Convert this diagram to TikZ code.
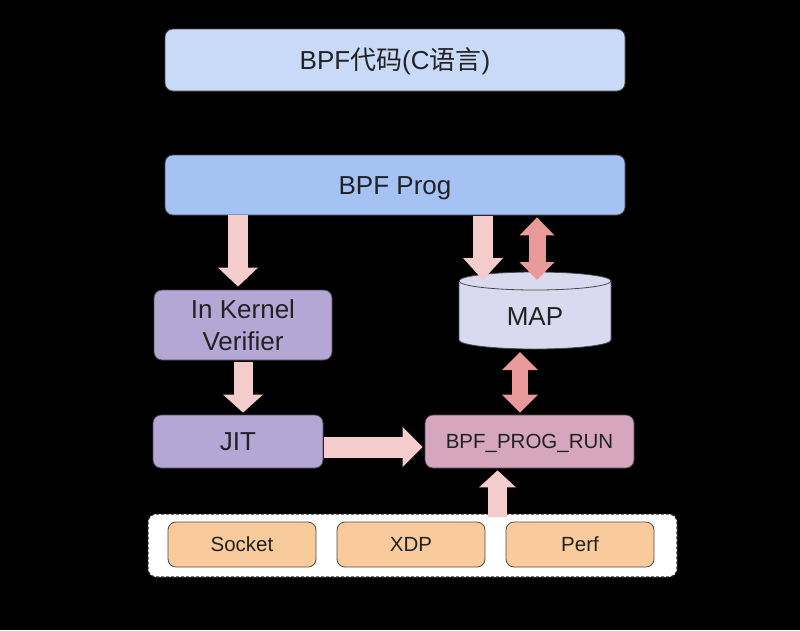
\documentclass[tikz,border=0pt]{standalone}
\usepackage{fontspec}
\setmainfont{Liberation Sans}
\newfontfamily\cjk{Noto Sans CJK SC}
\usetikzlibrary{arrows.meta,calc}
\definecolor{topc}{HTML}{C9DAF8}
\definecolor{progc}{HTML}{A4C2F4}
\definecolor{purc}{HTML}{B4A7D6}
\definecolor{mapc}{HTML}{D9D9F0}
\definecolor{runc}{HTML}{D5A6BD}
\definecolor{orc}{HTML}{F9CB9C}
\definecolor{arl}{HTML}{F4CCCC}
\definecolor{ard}{HTML}{EA9999}
\definecolor{edge}{HTML}{4A4A4A}
\definecolor{txt}{HTML}{222222}
\tikzset{
  box/.style={draw=edge, line width=0.8pt, rounded corners=8pt, text=txt,
    inner sep=0pt, align=center},
  big/.style={font=\fontsize{26}{32}\selectfont, text height=18.6pt, text depth=0pt},
  small/.style={font=\fontsize{20.5}{24}\selectfont, text height=14.7pt, text depth=0pt},
  hook/.style={box, small, fill=orc, minimum width=148, minimum height=45},
  onearrow/.style n args={4}{draw=#1, line width=#2,
    arrows={-{Triangle[width=#3,length=#4,line width=0pt]}}},
  twoarrow/.style n args={4}{draw=#1, line width=#2,
    arrows={{Triangle[width=#3,length=#4,line width=0pt]}-{Triangle[width=#3,length=#4,line width=0pt]}}},
}
\begin{document}
\begin{tikzpicture}[x=1pt,y=1pt]
\fill[black] (0,0) rectangle (800,-630);
\useasboundingbox (0,0) rectangle (800,-630);

\node[box, big, fill=topc, minimum width=460, minimum height=62] (top) at (395,-60) {BPF{\cjk 代码}(C{\cjk 语言})};
\node[box, big, fill=progc, minimum width=460, minimum height=60] (prog) at (395,-185) {BPF Prog};
\node[box, font=\fontsize{26}{32}\selectfont, fill=purc, minimum width=178, minimum height=70] (ver) at (243,-325) {In Kernel\\Verifier};
\node[box, big, fill=purc, minimum width=170, minimum height=53] (jit) at (238,-441.5) {JIT};
\node[box, small, fill=runc, minimum width=209, minimum height=53] (run) at (529.5,-441.5) {BPF\_PROG\_RUN};

% MAP cylinder
\filldraw[draw=edge, line width=0.8pt, fill=mapc]
  (459,-281) -- (459,-340) arc[start angle=180,end angle=360,x radius=76,y radius=9]
  -- (611,-281) arc[start angle=0,end angle=180,x radius=76,y radius=9] -- cycle;
\draw[draw=edge, line width=0.8pt] (459,-281) arc[start angle=180,end angle=360,x radius=76,y radius=9];
\node[text=txt, big, inner sep=0pt] (map) at (535,-316.5) {MAP};

% hook container
\node[draw=black!85, dash pattern=on 3pt off 2pt, line width=1.2pt, fill=white, rounded corners=8pt,
      minimum width=529, minimum height=63, inner sep=0pt] (cont) at (412.5,-545.5) {};
\node[hook] (sock) at (242,-544.5) {Socket};
\node[hook] (xdp) at (411,-544.5) {XDP};
\node[hook] (perf) at (580,-544.5) {Perf};

% arrows
\draw[onearrow={arl}{20pt}{40pt}{19pt}] ([xshift=-5pt]ver.north |- prog.south) -- ([xshift=-5pt,yshift=3pt]ver.north);
\draw[onearrow={arl}{19pt}{40pt}{18pt}] ([yshift=-2pt]ver.south) -- ([yshift=2pt]ver.south |- jit.north);
\draw[onearrow={arl}{20pt}{40pt}{22pt}] ([xshift=88pt,yshift=-1pt]prog.south) -- ([xshift=88pt]prog.south |- 0,-280);
\draw[twoarrow={ard}{17pt}{35pt}{18pt}] ([xshift=142pt,yshift=-2pt]prog.south) -- ([xshift=142pt]prog.south |- 0,-280);
\draw[twoarrow={ard}{16pt}{36pt}{18pt}] ([xshift=-9.5pt]run.north |- 0,-352) -- ([xshift=-9.5pt,yshift=2pt]run.north);
\draw[onearrow={arl}{21pt}{40pt}{20pt}] ([xshift=1pt,yshift=-5.5pt]jit.east) -- ([xshift=-2pt,yshift=-5.5pt]run.west);
\draw[onearrow={arl}{19pt}{37pt}{17pt}] ([xshift=-32pt,yshift=-4pt]run.south |- cont.north) -- ([xshift=-32pt,yshift=-2pt]run.south);
\end{tikzpicture}
\end{document}
